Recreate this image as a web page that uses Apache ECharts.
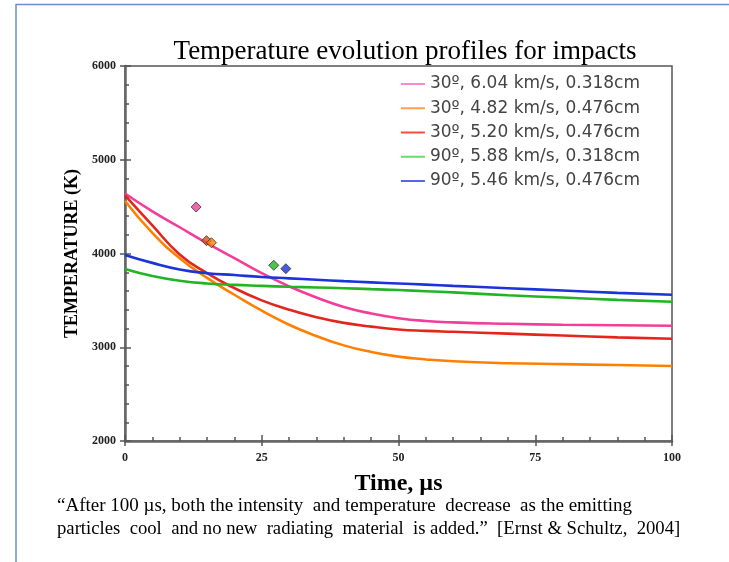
<!DOCTYPE html>
<html><head><meta charset="utf-8">
<script src="https://cdn.jsdelivr.net/npm/echarts@6/dist/echarts.min.js"></script>
<style>html,body{margin:0;padding:0;background:#fff}#c{width:729px;height:562px}</style>
</head><body><div id="c"></div>
<script>
const times = [0, 5, 10, 15, 20, 25, 30, 35, 40, 45, 50, 55, 60, 70, 80, 90, 100];
const pink   = [4640, 4450, 4280, 4110, 3950, 3790, 3650, 3530, 3430, 3360, 3310, 3280, 3265, 3250, 3240, 3235, 3230];
const orange = [4560, 4220, 3950, 3740, 3560, 3390, 3240, 3120, 3020, 2950, 2900, 2870, 2850, 2830, 2820, 2810, 2800];
const red    = [4620, 4300, 3990, 3790, 3630, 3500, 3400, 3320, 3260, 3220, 3190, 3175, 3165, 3145, 3125, 3105, 3090];
const green  = [3835, 3760, 3710, 3680, 3665, 3655, 3645, 3638, 3630, 3620, 3610, 3598, 3585, 3555, 3530, 3505, 3485];
const blue   = [3985, 3900, 3830, 3790, 3770, 3750, 3735, 3720, 3705, 3692, 3680, 3668, 3655, 3630, 3605, 3580, 3560];
const seriesNames = ['30º, 6.04 km/s, 0.318cm', '30º, 4.82 km/s, 0.476cm', '30º, 5.20 km/s, 0.476cm', '90º, 5.88 km/s, 0.318cm', '90º, 5.46 km/s, 0.476cm'];
const seriesValues = [pink, orange, red, green, blue];
const colors = ['#f23d9b', '#ff8000', '#e3261b', '#22b422', '#1c33d9'];
const legendColors = ['#ff88cc', '#ffa050', '#ff4a3a', '#66dd66', '#5566ee'];
// measured points (diamonds): [time, temperature]
const markerPoints = [[13.0, 4496], [14.9, 4137], [15.8, 4115], [27.2, 3874], [29.4, 3838]];
const markerColors = ['#f23d9b', '#d9501a', '#ff8000', '#22b422', '#1c33d9'];
const xTicks = [0, 25, 50, 75, 100];
const yTicks = [2000, 3000, 4000, 5000, 6000];

const chart = echarts.init(document.getElementById('c'));
const serif = 'Liberation Serif';
const series = seriesNames.map((n, i) => ({
  name: n, type: 'line', smooth: true, symbol: 'none', showSymbol: false,
  data: times.map((t, j) => [t, seriesValues[i][j]]),
  lineStyle: { color: colors[i], width: 2.6 }, itemStyle: { color: colors[i] },
  z: 3
}));
series.push({
  type: 'scatter', symbol: 'diamond', symbolSize: 10,
  data: markerPoints.map((p, i) => ({ value: p, itemStyle: { color: markerColors[i], borderColor: '#333', borderWidth: 1 } })),
  z: 5
});
chart.setOption({
  animation: false,
  backgroundColor: '#fff',
  title: { text: 'Temperature evolution profiles for impacts', left: 405, textAlign: 'center', top: 38, padding: 0,
    textStyle: { fontFamily: serif, fontSize: 27, fontWeight: 'normal', color: '#000' } },
  legend: {
    orient: 'vertical', right: 89, top: 75.5, padding: 0, itemWidth: 24, itemHeight: 12, itemGap: 7.25,
    textStyle: { fontFamily: 'DejaVu Sans', fontSize: 17, lineHeight: 17, color: '#444' },
    data: seriesNames.map((n, i) => ({ name: n, itemStyle: { color: legendColors[i], opacity: 0 }, lineStyle: { color: legendColors[i], width: 2, opacity: 1 } }))
  },
  grid: { left: 125, right: 57, top: 66, bottom: 121, show: true, borderColor: '#555', borderWidth: 1.5 },
  xAxis: [{
    type: 'value', min: 0, max: 100, interval: 25,
    name: 'Time, µs', nameLocation: 'middle', nameGap: 31,
    nameTextStyle: { fontFamily: serif, fontSize: 24, fontWeight: 'bold', color: '#000' },
    axisLine: { lineStyle: { color: '#666', width: 2.5 } },
    axisTick: { inside: true, length: 6, lineStyle: { color: '#555', width: 1.5 } },
    minorTick: { show: true, splitNumber: 5, length: 4, lineStyle: { color: '#555', width: 1.5 } },
    splitLine: { show: false },
    axisLabel: { fontFamily: serif, fontSize: 12, fontWeight: 'bold', color: '#222', margin: 11, formatter: v => String(v) }
  }, {
    type: 'value', min: 0, max: 100, interval: 25, position: 'bottom', gridIndex: 0,
    axisLine: { show: false }, axisLabel: { show: false }, splitLine: { show: false },
    axisTick: { inside: false, length: 5, lineStyle: { color: '#555', width: 1.5 } }
  }],
  yAxis: [{
    type: 'value', min: 2000, max: 6000, interval: 1000,
    name: 'TEMPERATURE (K)', nameLocation: 'middle', nameGap: 44, nameRotate: 90,
    nameTextStyle: { fontFamily: serif, fontSize: 18, fontWeight: 'bold', color: '#000' },
    axisLine: { show: true, lineStyle: { color: '#666', width: 2.5 } },
    axisTick: { show: true, inside: true, length: 6, lineStyle: { color: '#555', width: 1.5 } },
    minorTick: { show: true, splitNumber: 5, length: 4, lineStyle: { color: '#555', width: 1.5 } },
    splitLine: { show: false },
    axisLabel: { fontFamily: serif, fontSize: 12, fontWeight: 'bold', color: '#222', margin: 9, formatter: v => String(v) }
  }, {
    type: 'value', min: 2000, max: 6000, interval: 1000, position: 'left',
    axisLine: { show: false }, axisLabel: { show: false }, splitLine: { show: false },
    axisTick: { show: true, inside: false, length: 5, lineStyle: { color: '#555', width: 1.5 } }
  }],
  series: series,
  graphic: [
    { type: 'polyline', shape: { points: [[16, 600], [16, 4.5], [740, 4.5]] }, style: { stroke: '#6c8ebf', lineWidth: 1.5, fill: null }, silent: true },
    { type: 'text', left: 57, top: 497, style: { text: '“After 100 µs, both the intensity  and temperature  decrease  as the emitting', font: '19px "Liberation Serif"', fill: '#000' } },
    { type: 'text', left: 57, top: 520, style: { text: 'particles  cool  and no new  radiating  material  is added.”  [Ernst & Schultz,  2004]', font: '18.7px "Liberation Serif"', fill: '#000' } }
  ]
});
</script></body></html>
